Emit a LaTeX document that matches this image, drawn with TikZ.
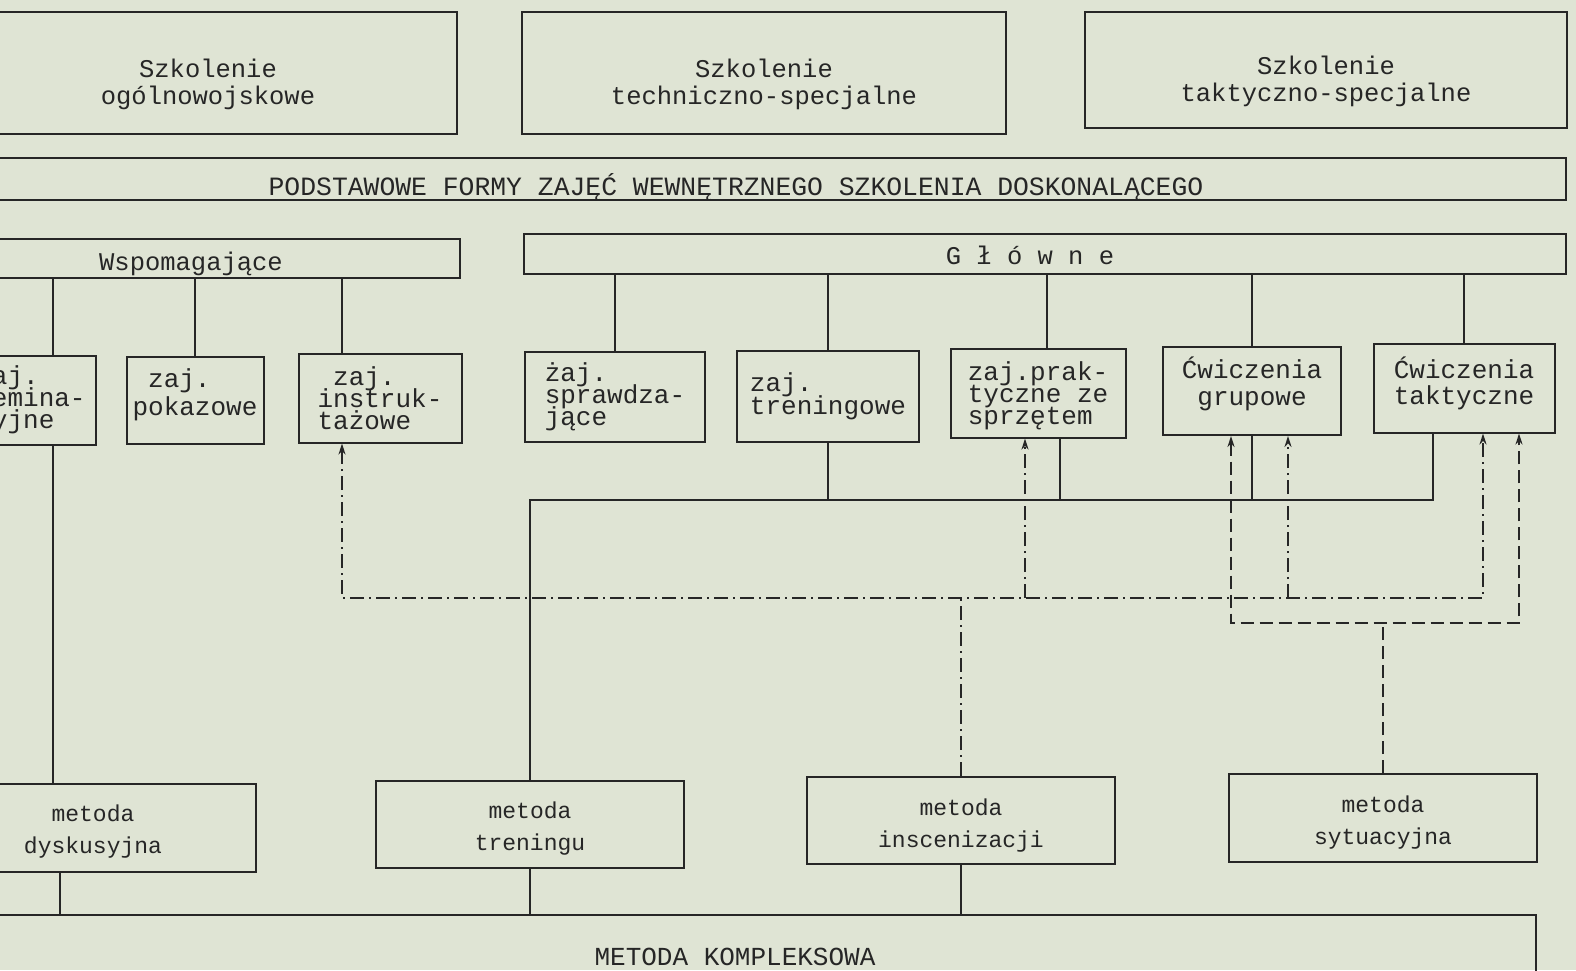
\documentclass[tikz,border=0pt]{standalone}
\usepackage{fontspec}
\newfontfamily\maszyna{Liberation Mono}
\usetikzlibrary{arrows.meta}
\definecolor{papier}{RGB}{223,228,212}
\definecolor{tusz}{RGB}{38,38,38}
% podpórki do przesuwania tekstu w ramce
\newcommand{\wdol}[1]{\rule{0pt}{#1}}        % tekst niżej
\newcommand{\wgore}[1]{\rule[-#1]{0pt}{0pt}} % tekst wyżej

\begin{document}
\begin{tikzpicture}[
        % --- USTAWIENIA OGÓLNE ---
        x=1pt, y=-1pt, % współrzędne jak piksele skanu (oś y w dół)
        % ramka z tekstem
        box/.style={
            rectangle,
            draw=tusz,
            line width=2pt,
            text=tusz,
            inner sep=0pt,
            align=center,
            font={\maszyna\fontsize{25.5}{27}\selectfont}
        },
        % ramka zajęć (ciasne wiersze, #1 = odstęp wierszy)
        zaj/.style={
            box,
            align=left,
            font={\maszyna\fontsize{26}{#1}\selectfont\lineskiplimit=-100pt}
        },
        zaj/.default=22,
        % ramka metody
        metoda/.style={
            box,
            font={\maszyna\fontsize{23}{32}\selectfont}
        },
        % linie łączące
        link/.style={draw=tusz, line width=1.9pt},
        dashdotline/.style={link, dash pattern=on 14pt off 5pt on 2pt off 5pt},
        dashedline/.style={link, dash pattern=on 13pt off 6pt},
        arrow/.style={>={Stealth[length=11pt,width=7pt]}}
    ]

    % --- TŁO (KARTKA) ---
    \useasboundingbox (0,0) rectangle (1576,970);
    \fill[papier] (0,0) rectangle (1576,970);
    \clip (0,0) rectangle (1576,970);

    % --- RODZAJE SZKOLENIA ---
    \node[box, minimum width=497, minimum height=122] (ogolne) at (208,73) {\wdol{42pt}Szkolenie\\ogólnowojskowe};
    \node[box, minimum width=484, minimum height=122] (techniczne) at (764,73) {\wdol{42pt}Szkolenie\\techniczno-specjalne};
    \node[box, minimum width=482, minimum height=116] (taktyczne) at (1326,70) {\wdol{42pt}Szkolenie\\taktyczno-specjalne};

    % --- PODSTAWOWE FORMY ---
    \node[box, minimum width=1660, minimum height=42, text height=37.5pt, text depth=4.5pt,
          font={\maszyna\fontsize{26.4}{30}\selectfont}] (formy) at (736,179) {PODSTAWOWE FORMY ZAJĘĆ WEWNĘTRZNEGO SZKOLENIA DOSKONALĄCEGO};

    % --- GRUPY ZAJĘĆ ---
    \node[box, minimum width=538, minimum height=39] (wsp) at (191,258) {\wdol{31pt}Wspomagające};
    \node[box, minimum width=1042, minimum height=40] (glowne) at (1045,254) {\wdol{22pt}G ł ó w n e\hspace*{30pt}};

    % --- ZAJĘCIA WSPOMAGAJĄCE ---
    \node[zaj, minimum width=130, minimum height=89] (seminaryjne) at (31,400) {zaj.\\semina-\\ryjne};
    \node[zaj=28, minimum width=137, minimum height=87] (pokazowe) at (195,400) {~zaj.\\pokazowe\wgore{15pt}};
    \node[zaj, minimum width=163, minimum height=89] (instruktazowe) at (380,398) {~zaj.\\instruk-\\tażowe};

    % --- ZAJĘCIA GŁÓWNE ---
    \node[zaj, minimum width=180, minimum height=90] (sprawdzajace) at (615,397) {żaj.\\sprawdza-\\jące};
    \node[zaj=23, minimum width=182, minimum height=91] (treningowe) at (828,396) {zaj.\\treningowe};
    \node[zaj, minimum width=175, minimum height=89] (praktyczne) at (1038,393) {\wdol{25pt}zaj.prak-\\tyczne ze\\sprzętem};
    \node[zaj=27, align=center, minimum width=178, minimum height=88] (grupowe) at (1252,391) {Ćwiczenia\\grupowe\wgore{19pt}};
    \node[zaj=26, align=center, minimum width=181, minimum height=89] (cwtaktyczne) at (1464,388) {Ćwiczenia\\taktyczne\wgore{15pt}};

    % --- METODY ---
    \node[metoda, minimum width=326, minimum height=88] (dyskusyjna) at (93,828) {\wdol{24pt}metoda\\dyskusyjna};
    \node[metoda, minimum width=308, minimum height=87] (trening) at (530,824) {\wdol{26pt}metoda\\treningu};
    \node[metoda, minimum width=308, minimum height=87] (inscenizacja) at (961,820) {\wdol{28pt}metoda\\inscenizacji};
    \node[metoda, minimum width=308, minimum height=88] (sytuacyjna) at (1383,818) {\wdol{25pt}metoda\\sytuacyjna};

    % --- METODA KOMPLEKSOWA ---
    \node[box, minimum width=1602, minimum height=84, font={\maszyna\fontsize{26}{28}\selectfont}] (kompleksowa) at (735,957) {METODA KOMPLEKSOWA};

    % --- PUNKTY POMOCNICZE ---
    \coordinate (szynaT) at (0,500); % szyna ciągła
    \coordinate (szynaI) at (0,598); % szyna kreska-kropka
    \coordinate (szynaS) at (0,623); % szyna kreskowa
    \coordinate (semA) at ([xshift=22pt]seminaryjne.north);
    \coordinate (semB) at ([xshift=22pt]seminaryjne.south);
    \coordinate (insA) at ([xshift=-38pt]instruktazowe.north);
    \coordinate (insB) at ([xshift=-38pt]instruktazowe.south);
    \coordinate (praT) at ([xshift=9pt]praktyczne.north);
    \coordinate (praA) at ([xshift=-13pt]praktyczne.south);
    \coordinate (praB) at ([xshift=22pt]praktyczne.south);
    \coordinate (grpA) at ([xshift=-21pt]grupowe.south);
    \coordinate (grpB) at ([xshift=36pt]grupowe.south);
    \coordinate (takA) at ([xshift=-31pt]cwtaktyczne.south);
    \coordinate (takB) at ([xshift=19pt]cwtaktyczne.south);
    \coordinate (takC) at ([xshift=55pt]cwtaktyczne.south);
    \coordinate (dysB) at ([xshift=-33pt]dyskusyjna.south);

    % --- POŁĄCZENIA Z GRUPAMI ---
    \draw[link] (semA) -- (semA |- wsp.south);
    \draw[link] (pokazowe.north) -- (pokazowe.north |- wsp.south);
    \draw[link] (insA) -- (insA |- wsp.south);
    \draw[link] (sprawdzajace.north) -- (sprawdzajace.north |- glowne.south);
    \draw[link] (treningowe.north) -- (treningowe.north |- glowne.south);
    \draw[link] (praT) -- (praT |- glowne.south);
    \draw[link] (grupowe.north) -- (grupowe.north |- glowne.south);
    \draw[link] (cwtaktyczne.north) -- (cwtaktyczne.north |- glowne.south);

    % --- METODA DYSKUSYJNA ---
    \draw[link] (semB) -- (semB |- dyskusyjna.north);
    \draw[link] (dysB) -- (dysB |- kompleksowa.north);

    % --- METODA TRENINGU (linia ciągła) ---
    \draw[link] (trening.north) -- (trening.north |- szynaT) -| (takA);
    \draw[link] (treningowe.south) -- (treningowe.south |- szynaT);
    \draw[link] (praB) -- (praB |- szynaT);
    \draw[link] (grupowe.south) -- (grupowe.south |- szynaT);
    \draw[link] (trening.south) -- (trening.south |- kompleksowa.north);

    % --- METODA INSCENIZACJI (kreska-kropka) ---
    \draw[dashdotline] (inscenizacja.north) -- (inscenizacja.north |- szynaI);
    \draw[dashdotline, arrow, <->] (insB) -- (insB |- szynaI) -| (takB);
    \draw[dashdotline, arrow, ->] (praA |- szynaI) -- (praA);
    \draw[dashdotline, arrow, ->] (grpB |- szynaI) -- (grpB);
    \draw[link] (inscenizacja.south) -- (inscenizacja.south |- kompleksowa.north);

    % --- METODA SYTUACYJNA (kreskowa) ---
    \draw[dashedline] (sytuacyjna.north) -- (sytuacyjna.north |- szynaS);
    \draw[dashedline, arrow, <->] (grpA) -- (grpA |- szynaS) -| (takC);

\end{tikzpicture}
\end{document}
